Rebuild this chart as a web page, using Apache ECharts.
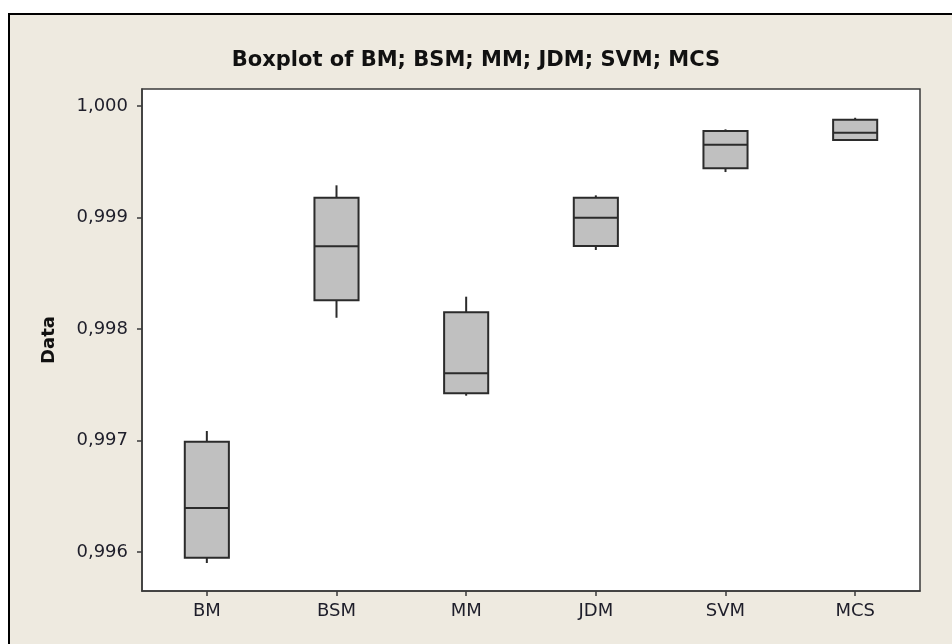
<!DOCTYPE html>
<html>
<head>
<meta charset="utf-8">
<script src="https://cdn.jsdelivr.net/npm/echarts@6/dist/echarts.min.js"></script>
<style>
  html, body { margin: 0; padding: 0; background: #ffffff; }
  #panel { position: absolute; left: 8px; top: 13px; width: 944px; height: 631px;
           background: #eeeae0; border-top: 2px solid #000; border-left: 2px solid #000; box-sizing: border-box; }
  #chart { position: absolute; left: 0; top: 0; width: 952px; height: 644px; }
</style>
</head>
<body>
<div id="panel"></div>
<div id="chart"></div>
<script>
// Categories
const categories = ['BM', 'BSM', 'MM', 'JDM', 'SVM', 'MCS'];
// Box statistics per category
const minValues    = [0.995901, 0.998101, 0.997402, 0.998709, 0.999408, 0.999692];
const q1Values     = [0.995949, 0.998257, 0.997423, 0.998744, 0.999441, 0.999695];
const medianValues = [0.996395, 0.998742, 0.997603, 0.998998, 0.999653, 0.999761];
const q3Values     = [0.996989, 0.999178, 0.998150, 0.999178, 0.999776, 0.999877];
const maxValues    = [0.997085, 0.999289, 0.998290, 0.999199, 0.999791, 0.999895];
// Y tick values
const yTicks = [0.996, 0.997, 0.998, 0.999, 1.000];

const titleText = 'Boxplot of BM; BSM; MM; JDM; SVM; MCS';
const yName = 'Data';

const boxData = categories.map((c, i) =>
  [i, minValues[i], q1Values[i], medianValues[i], q3Values[i], maxValues[i]]);

const stroke = '#2b2b2b';
const textColor = '#1e1e2a';
const font = 'DejaVu Sans';

function renderBox(params, api) {
  const idx = api.value(0);
  const pMin = api.coord([idx, api.value(1)]);
  const pQ1 = api.coord([idx, api.value(2)]);
  const pMed = api.coord([idx, api.value(3)]);
  const pQ3 = api.coord([idx, api.value(4)]);
  const pMax = api.coord([idx, api.value(5)]);
  const bw = api.size([1, 0])[0] * 0.34;
  const x = pMed[0];
  const lineStyle = { stroke: stroke, lineWidth: 2 };
  return {
    type: 'group',
    children: [
      { type: 'line', shape: { x1: x, y1: pQ3[1], x2: x, y2: pMax[1] }, style: lineStyle },
      { type: 'line', shape: { x1: x, y1: pQ1[1], x2: x, y2: pMin[1] }, style: lineStyle },
      { type: 'rect', shape: { x: x - bw / 2, y: pQ3[1], width: bw, height: pQ1[1] - pQ3[1] },
        style: { fill: '#c0c0c0', stroke: stroke, lineWidth: 2 } },
      { type: 'line', shape: { x1: x - bw / 2, y1: pMed[1], x2: x + bw / 2, y2: pMed[1] }, style: lineStyle }
    ]
  };
}

const chart = echarts.init(document.getElementById('chart'), null, { renderer: 'canvas' });
chart.setOption({
  backgroundColor: 'transparent',
  animation: false,
  title: {
    text: titleText,
    left: 'center',
    top: 45,
    textStyle: { fontFamily: font, fontWeight: 'bold', fontSize: 21, color: '#111' }
  },
  grid: {
    left: 142, top: 89, right: 32, bottom: 53,
    show: true, backgroundColor: '#ffffff', borderColor: '#3a3a3a', borderWidth: 1.5
  },
  xAxis: {
    type: 'category',
    data: categories,
    boundaryGap: true,
    axisLine: { show: true, lineStyle: { color: '#3a3a3a', width: 1.5 } },
    axisTick: { show: true, alignWithLabel: true, length: 5, lineStyle: { color: '#3a3a3a', width: 1.5 } },
    axisLabel: { margin: 11, fontFamily: font, fontSize: 18, color: textColor },
    splitLine: { show: false }
  },
  yAxis: {
    type: 'value',
    min: 0.99565,
    max: 1.000153,
    name: yName,
    nameLocation: 'middle',
    nameGap: 84,
    nameTextStyle: { fontFamily: font, fontWeight: 'bold', fontSize: 18, color: '#111' },
    axisLine: { show: true, lineStyle: { color: '#3a3a3a', width: 1.5 } },
    axisTick: { show: true, length: 5, customValues: yTicks, lineStyle: { color: '#3a3a3a', width: 1.5 } },
    axisLabel: {
      margin: 14, fontFamily: font, fontSize: 18, color: textColor,
      customValues: yTicks,
      formatter: v => v.toFixed(3).replace('.', ',')
    },
    splitLine: { show: false }
  },
  series: [{
    type: 'custom',
    renderItem: renderBox,
    data: boxData,
    encode: { x: 0, y: [1, 2, 3, 4, 5] },
    clip: false
  }]
});
</script>
</body>
</html>
